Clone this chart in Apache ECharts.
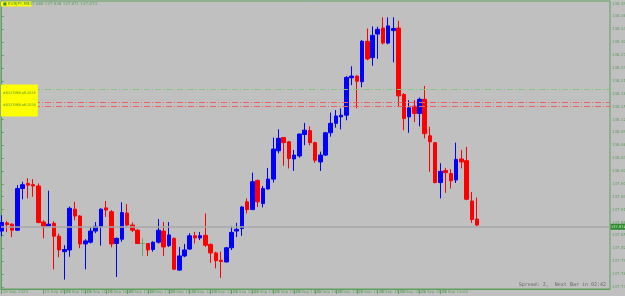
<!DOCTYPE html>
<html><head><meta charset="utf-8">
<script src="https://cdn.jsdelivr.net/npm/echarts@6/dist/echarts.min.js"></script>
<style>html,body{margin:0;padding:0;background:#c0c0c0}#c{width:625px;height:296px}</style>
</head><body><div id="c"></div>
<script>
const symbol = 'EURJPY,M5';
const opens = [137.860,137.879,137.876,137.862,137.959,137.971,137.968,137.965,137.881,137.872,
137.878,137.848,137.812,137.816,137.911,137.895,137.830,137.834,137.860,137.870,
137.914,137.905,137.831,137.841,137.902,137.874,137.862,137.831,137.831,137.817,
137.834,137.860,137.826,137.843,137.769,137.802,137.818,137.849,137.844,137.850,
137.829,137.809,137.792,137.788,137.821,137.860,137.866,137.928,137.910,137.978,
137.924,137.958,137.981,138.047,138.078,138.068,138.028,138.035,138.085,138.094,
138.066,138.021,138.037,138.089,138.111,138.126,138.130,138.217,138.221,138.208,
138.302,138.264,138.319,138.333,138.298,138.327,138.333,138.178,138.126,138.151,
138.134,138.167,138.082,138.066,137.973,138.001,137.994,137.979,138.028,138.024,
137.930,137.888];
const closes = [137.880,137.875,137.862,137.959,137.968,137.967,137.965,137.880,137.870,137.876,
137.848,137.816,137.817,137.913,137.895,137.830,137.837,137.860,137.871,137.911,
137.909,137.830,137.843,137.903,137.874,137.862,137.831,137.831,137.816,137.834,
137.862,137.823,137.851,137.771,137.802,137.816,137.849,137.844,137.849,137.827,
137.809,137.791,137.789,137.821,137.857,137.864,137.916,137.910,137.975,137.928,
137.959,137.981,138.051,138.076,138.066,138.029,138.037,138.086,138.095,138.066,
138.025,138.037,138.089,138.111,138.128,138.130,138.218,138.221,138.209,138.302,
138.261,138.316,138.330,138.298,138.338,138.332,138.175,138.122,138.147,138.134,
138.167,138.087,138.068,137.973,137.999,137.996,137.977,138.027,138.021,137.934,
137.887,137.874];
const lows = [137.848,137.858,137.846,137.860,137.934,137.936,137.940,137.878,137.843,137.871,
137.771,137.799,137.747,137.800,137.885,137.820,137.771,137.831,137.855,137.826,
137.893,137.822,137.753,137.835,137.871,137.858,137.830,137.802,137.802,137.812,
137.831,137.802,137.823,137.769,137.767,137.799,137.816,137.831,137.839,137.823,
137.786,137.773,137.751,137.787,137.816,137.846,137.849,137.901,137.909,137.916,
137.915,137.957,137.973,138.041,138.012,138.006,138.000,138.031,138.060,138.060,
138.019,138.000,138.035,138.080,138.101,138.097,138.118,138.200,138.146,138.195,
138.258,138.245,138.261,138.295,138.295,138.253,138.151,138.095,138.089,138.114,
138.104,138.076,137.998,137.971,137.936,137.949,137.959,137.972,138.006,137.932,
137.879,137.871];
const highs = [137.897,137.883,137.878,137.967,137.975,137.983,137.981,137.971,137.885,137.954,
137.883,137.854,137.827,137.917,137.928,137.897,137.841,137.868,137.881,137.913,
137.930,137.909,137.845,137.927,137.923,137.880,137.865,137.843,137.832,137.836,
137.888,137.881,137.881,137.845,137.823,137.830,137.855,137.858,137.858,137.901,
137.831,137.812,137.812,137.823,137.871,137.879,137.918,137.936,137.996,137.980,
137.965,138.007,138.078,138.097,138.079,138.070,138.049,138.087,138.112,138.104,
138.068,138.045,138.091,138.136,138.142,138.146,138.221,138.244,138.223,138.305,
138.332,138.337,138.336,138.358,138.358,138.358,138.350,138.181,138.165,138.165,
138.171,138.198,138.103,138.066,138.018,138.007,138.004,138.066,138.049,138.056,
137.951,137.938];
const dojiIndex = [27];
const yTicks = [138.390,138.360,138.330,138.300,138.270,138.240,138.210,138.180,138.150,138.120,
138.090,138.060,138.030,138.000,137.970,137.940,137.910,137.880,137.850,137.820,137.790,137.760,137.730];
const xTickIdx = [0,4,8,12,16,20,24,28,32,36,40,44,48,52,56,60,64,68,72,76,80,84,88];
const xTickLabels = ['19 Sep 2023','19 Sep 09:20','19 Sep 09:40','19 Sep 10:00','19 Sep 10:20','19 Sep 10:40',
'19 Sep 11:00','19 Sep 11:20','19 Sep 11:40','19 Sep 12:00','19 Sep 12:20','19 Sep 12:40','19 Sep 13:00',
'19 Sep 13:20','19 Sep 13:40','19 Sep 14:00','19 Sep 14:20','19 Sep 14:40','19 Sep 15:00','19 Sep 15:20',
'19 Sep 15:40','19 Sep 16:00','19 Sep 16:20'];
const greenLevels = [138.186, 138.160];
const redLevels = [138.155, 138.150];
const boxLines = ['#0327IMB aR.2035', '#0327IMB aR.2035'];
const statusText = 'Spread: 2,  Next Bar in 02:42';

const GREEN = '#5f9f5f';
const last = closes.length - 1;
const lastPrice = closes[last];
const candles = opens.map((o, i) => {
  const item = { value: [i, o, closes[i], lows[i], highs[i]] };
  if (dojiIndex.includes(i)) item.itemStyle = { color: '#6aa86a', borderColor: '#6aa86a', color0: '#6aa86a', borderColor0: '#6aa86a' };
  return item;
});
const dash = [6, 2, 1, 2];
const levelData = greenLevels.map(v => ({ yAxis: v, lineStyle: { color: '#86c486', type: dash, width: 1 } }))
  .concat(redLevels.map(v => ({ yAxis: v, lineStyle: { color: '#f06060', type: dash, width: 1 } })));

const chart = echarts.init(document.getElementById('c'), null, { renderer: 'canvas' });
chart.setOption({
  backgroundColor: '#c0c0c0',
  animation: false,
  title: [
    { text: '■ ' + symbol, left: 1, top: 1.5, backgroundColor: '#ffff00', padding: [0.5, 2],
      textStyle: { fontSize: 4, color: '#3f8f3f', fontWeight: 'normal', fontFamily: 'DejaVu Sans' } },
    { text: [opens[last], highs[last], lows[last], closes[last]].map(v => v.toFixed(3)).join(' '), left: 27, top: 1.5, padding: [0.5, 0],
      textStyle: { fontSize: 4, color: GREEN, fontWeight: 'normal', fontFamily: 'DejaVu Sans' } },
    { text: boxLines.join('\n'), left: 1, top: 84.5, backgroundColor: '#ffff00', padding: [3, 2, 5, 2],
      textStyle: { fontSize: 3.4, lineHeight: 12, color: '#4a8f2a', fontWeight: 'normal', fontFamily: 'DejaVu Sans' } },
    { text: statusText, right: 19, top: 282, padding: 0,
      textStyle: { fontSize: 5, color: '#666666', fontWeight: 'normal', fontFamily: 'DejaVu Sans Mono' } }
  ],
  grid: { left: 1, top: 1, right: 15, bottom: 7, show: true, borderColor: GREEN, borderWidth: 1,
    containLabel: false, outerBoundsMode: 'none' },
  xAxis: {
    type: 'value', min: -0.134, max: 116.47,
    axisLine: { show: true, lineStyle: { color: GREEN } },
    splitLine: { show: false },
    axisTick: { show: true, customValues: xTickIdx, length: 5, lineStyle: { color: GREEN } },
    axisLabel: { customValues: xTickIdx, formatter: v => xTickLabels[xTickIdx.indexOf(Math.round(v))] || '',
      fontSize: 4, color: GREEN, align: 'left', margin: 1, padding: [0, 0, 0, 1], fontFamily: 'DejaVu Sans',
      hideOverlap: false, showMinLabel: true }
  },
  yAxis: {
    type: 'value', position: 'right', min: 137.725, max: 138.396,
    axisLine: { show: true, lineStyle: { color: GREEN } },
    splitLine: { show: false },
    axisTick: { show: true, customValues: yTicks, length: 2, lineStyle: { color: GREEN } },
    axisLabel: { customValues: yTicks, formatter: v => v.toFixed(3), fontSize: 4, color: GREEN, margin: 2, fontFamily: 'DejaVu Sans' }
  },
  series: [
    { type: 'line', data: [], z: 1, silent: true,
      markLine: { symbol: 'none', silent: true, animation: false, label: { show: false }, data: levelData } },
    { type: 'line', data: [], z: 1, silent: true,
      markLine: { symbol: 'none', silent: true, animation: false,
        lineStyle: { color: '#a8a8a8', type: 'solid', width: 1.5 },
        label: { show: true, position: 'end', distance: 0.5, formatter: () => lastPrice.toFixed(3),
          backgroundColor: '#2e8b2e', color: '#d8f0d8', fontSize: 3.6, padding: [1, 0.5], fontFamily: 'DejaVu Sans' },
        data: [{ yAxis: lastPrice }] } },
    { type: 'candlestick', z: 2, barWidth: 4, clip: true,
      encode: { x: 0, y: [1, 2, 3, 4] },
      itemStyle: { color: '#0000ff', borderColor: '#0000ff', color0: '#ff0000', borderColor0: '#ff0000', borderWidth: 1 },
      data: candles }
  ]
});
</script></body></html>
